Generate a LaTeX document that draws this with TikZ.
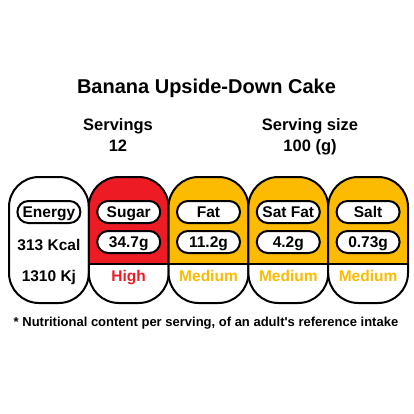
\documentclass[tikz,border=0pt]{standalone}
\usepackage{fontspec}
\setmainfont{Liberation Sans}
\usetikzlibrary{positioning}
\definecolor{levelRed}{RGB}{237,28,36}
\definecolor{levelAmber}{RGB}{252,186,0}

\begin{document}
\begin{tikzpicture}[x=1pt,y=-1pt,
    capsule/.style={draw,line width=2pt,fill=white,rounded corners=30pt,minimum width=79.8pt,minimum height=126pt,inner sep=0pt,outer sep=0pt},
    pill/.style={draw,line width=2pt,fill=white,rounded corners=11pt,minimum width=63pt,minimum height=22pt,inner sep=0pt,text height=11pt,text depth=0pt,font=\fontsize{15.5}{18}\selectfont\bfseries},
    amount/.style={inner sep=0pt,text height=11pt,text depth=0pt,font=\fontsize{15.5}{18}\selectfont\bfseries},
    headtext/.style={inner sep=0pt,text height=11.8pt,text depth=0pt,font=\fontsize{16.5}{20}\selectfont\bfseries},
    titletext/.style={inner sep=0pt,text height=14.3pt,text depth=0pt,font=\fontsize{20}{24}\selectfont\bfseries},
    notetext/.style={inner sep=0pt,text height=9.3pt,text depth=0pt,font=\fontsize{13}{16}\selectfont\bfseries}]
    \useasboundingbox (0,0) rectangle (414,414);

    \node[titletext] (title) at (206.5,86) {Banana Upside-Down Cake};
    \node[headtext] (servings) at (118,125) {Servings};
    \node[headtext] (servingsNum) [below=8pt of servings] {12};
    \node[headtext] (size) at (310,125) {Serving size};
    \node[headtext] (sizeNum) [below=8pt of size] {100 (g)};

    % energy column, no level
    \node[capsule] (energy) at (48.9,240) {};
    \node[pill] (energyName) at (48.9,212) {Energy};
    \node[amount] (energyKcal) at (48.9,244.5) {313 Kcal};
    \node[amount] (energyKj) at (48.9,276) {1310 Kj};

    \foreach \nm/\val/\lvl/\col [count=\i] in {Sugar/34.7g/High/levelRed, Fat/11.2g/Medium/levelAmber, Sat Fat/4.2g/Medium/levelAmber, Salt/0.73g/Medium/levelAmber} {
        \node[capsule,path picture={
                \fill[\col,sharp corners] (path picture bounding box.north west) rectangle ([yshift=-87pt]path picture bounding box.north east);
                \draw[line width=2pt,sharp corners] ([yshift=-87pt]path picture bounding box.north west) -- ([yshift=-87pt]path picture bounding box.north east);
            }] (cap\i) at (48.9+79.8*\i,240) {};
        \node[pill] (name\i) at (48.9+79.8*\i,212) {\nm};
        \node[pill] (value\i) at (48.9+79.8*\i,242) {\val};
        \node[amount,text=\col] (level\i) at (48.9+79.8*\i,276) {\lvl};
    }

    \node[notetext] (note) at (206,322) {* Nutritional content per serving, of an adult\textquotesingle s reference intake};
\end{tikzpicture}
\end{document}
